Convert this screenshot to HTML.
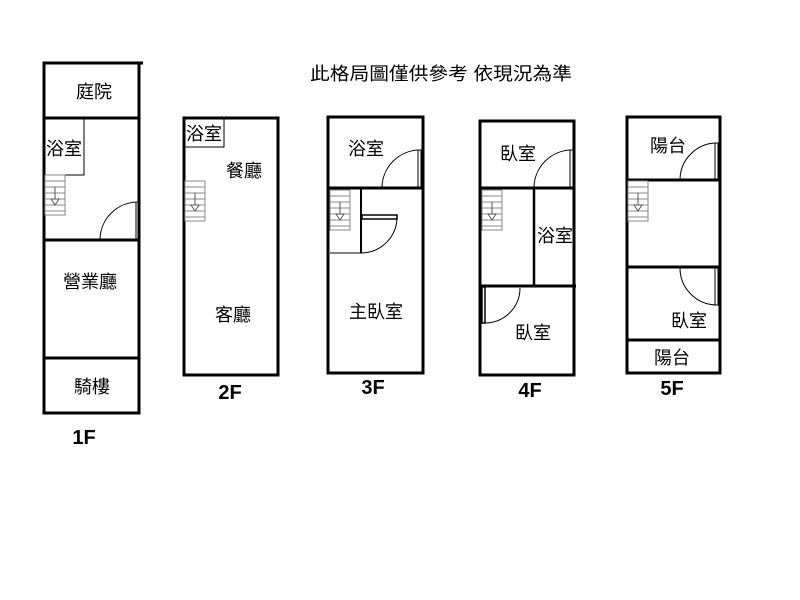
<!DOCTYPE html>
<html><head><meta charset="utf-8"><style>
html,body{margin:0;padding:0;background:#fff;width:800px;height:600px;overflow:hidden}
svg text{font-family:"Liberation Sans","Noto Sans CJK TC",sans-serif}
</style></head><body>
<svg width="800" height="600" viewBox="0 0 800 600" xmlns="http://www.w3.org/2000/svg">
<defs>
<g id="st" stroke="#888" stroke-width="1" fill="none">
<rect x="0" y="0" width="20" height="40" fill="#fff"/>
<line x1="0" y1="6" x2="20" y2="6"/><line x1="0" y1="12" x2="20" y2="12"/>
<line x1="0" y1="18" x2="20" y2="18"/><line x1="0" y1="24" x2="20" y2="24"/>
<line x1="0" y1="30" x2="20" y2="30"/><line x1="0" y1="36" x2="20" y2="36"/>
<line x1="10" y1="12" x2="10" y2="28" stroke="#555"/>
<path d="M6 24 L14 24 L10 30 Z" fill="#fff" stroke="#555"/>
</g>
</defs>
<g fill="none" stroke="#000">
<!-- 1F -->
<rect x="44" y="63" width="95" height="350" stroke-width="3"/>
<line x1="44" y1="63" x2="143" y2="63" stroke-width="3"/>
<line x1="44" y1="118" x2="139" y2="118" stroke-width="3"/>
<line x1="44" y1="240" x2="139" y2="240" stroke-width="3"/>
<line x1="44" y1="358" x2="139" y2="358" stroke-width="3"/>
<rect x="44" y="118" width="40" height="57" stroke-width="1"/>
<use href="#st" x="45" y="175"/>
<path d="M100 240 A38 38 0 0 1 138 202" stroke-width="1"/>
<line x1="136" y1="202" x2="136" y2="240" stroke-width="1"/>
<!-- 2F -->
<rect x="184" y="118" width="94" height="257" stroke-width="3"/>
<rect x="184" y="118" width="40" height="29" stroke-width="1"/>
<use href="#st" x="185" y="181"/>
<!-- 3F -->
<rect x="328" y="117" width="95" height="256" stroke-width="3"/>
<line x1="328" y1="188" x2="423" y2="188" stroke-width="3"/>
<path d="M382 188 A38 38 0 0 1 420 150" stroke-width="1"/>
<rect x="418" y="150" width="3" height="38" stroke-width="1"/>
<use href="#st" x="330" y="190"/>
<line x1="361" y1="188" x2="361" y2="253" stroke-width="2"/>
<line x1="330" y1="253" x2="361" y2="253" stroke-width="1"/>
<rect x="362" y="215" width="35" height="4" stroke-width="1.5"/>
<path d="M397 217 A36 36 0 0 1 361 253" stroke-width="1"/>
<!-- 4F -->
<rect x="480" y="121" width="94" height="254" stroke-width="3"/>
<line x1="480" y1="188" x2="574" y2="188" stroke-width="3"/>
<path d="M534 188 A38 38 0 0 1 572 150" stroke-width="1"/>
<rect x="570" y="150" width="3" height="38" stroke-width="1"/>
<line x1="534" y1="188" x2="534" y2="286" stroke-width="2.5"/>
<line x1="480" y1="286" x2="576" y2="286" stroke-width="3"/>
<use href="#st" x="482" y="190"/>
<rect x="482" y="287" width="3" height="36" stroke-width="1.5"/>
<path d="M485 323 A35 35 0 0 0 520 288" stroke-width="1"/>
<!-- 5F -->
<rect x="627" y="117" width="93" height="256" stroke-width="3"/>
<line x1="627" y1="180" x2="720" y2="180" stroke-width="3"/>
<line x1="627" y1="267" x2="720" y2="267" stroke-width="3"/>
<line x1="627" y1="340" x2="720" y2="340" stroke-width="3"/>
<path d="M680 180 A37 37 0 0 1 717 143" stroke-width="1"/>
<rect x="715" y="143" width="3" height="37" stroke-width="1"/>
<use href="#st" x="628" y="181"/>
<path d="M680 268 A37 37 0 0 0 717 305" stroke-width="1"/>
<rect x="715" y="268" width="3" height="37" stroke-width="1"/>
</g>
<g font-size="18" fill="#000" text-anchor="middle">
<text x="441" y="80" font-size="18" textLength="262" lengthAdjust="spacingAndGlyphs">此格局圖僅供參考 依現況為準</text>
<text x="94" y="98">庭院</text>
<text x="64" y="155">浴室</text>
<text x="90" y="288">營業廳</text>
<text x="92" y="393">騎樓</text>
<text x="204" y="140">浴室</text>
<text x="244" y="177">餐廳</text>
<text x="233" y="321">客廳</text>
<text x="366" y="155">浴室</text>
<text x="376" y="318">主臥室</text>
<text x="518" y="160">臥室</text>
<text x="555" y="242">浴室</text>
<text x="533" y="339">臥室</text>
<text x="668" y="152">陽台</text>
<text x="689" y="327">臥室</text>
<text x="672" y="364">陽台</text>
</g>
<g font-size="20" font-weight="bold" fill="#000" text-anchor="middle">
<text x="84" y="444">1F</text>
<text x="230" y="399">2F</text>
<text x="373" y="394">3F</text>
<text x="530" y="397">4F</text>
<text x="672" y="395">5F</text>
</g>
</svg>
</body></html>
